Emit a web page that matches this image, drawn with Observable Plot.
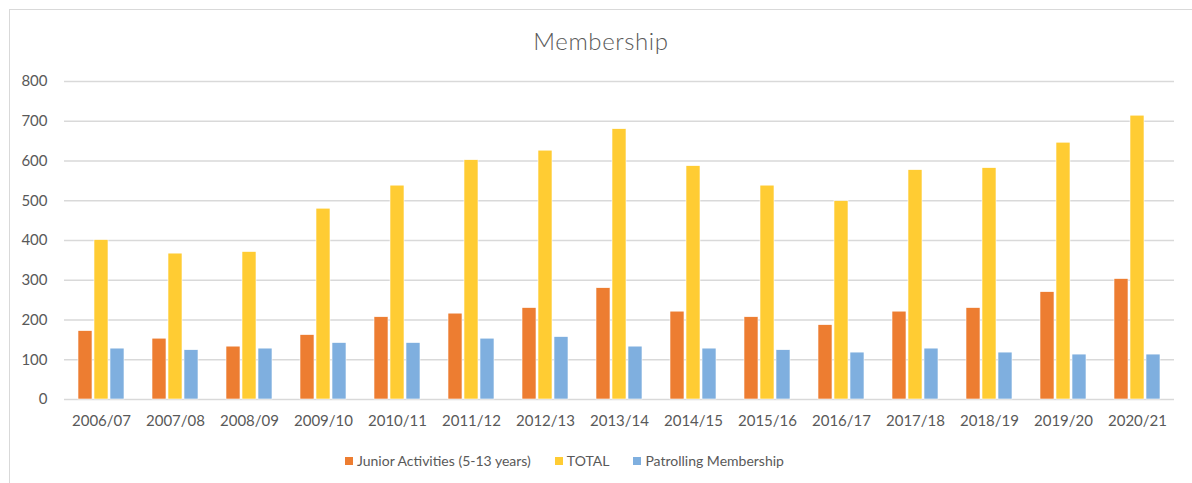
<!DOCTYPE html>
<html>
<head>
<meta charset="utf-8">
<script src="https://cdn.jsdelivr.net/npm/d3@7"></script>
<script src="https://cdn.jsdelivr.net/npm/@observablehq/plot@0.6"></script>
<style>
  html, body { margin: 0; padding: 0; background: #fff; }
  body { width: 1192px; height: 483px; position: relative; overflow: hidden; font-family: Lato, "Open Sans", sans-serif; }
  #frame { position: absolute; left: 9px; top: 9px; width: 1200px; height: 480px; border: 1px solid #d9d9d9; box-sizing: border-box; }
  #title { position: absolute; left: 10px; width: 1182px; top: 26px; text-align: center; font-size: 24px; font-weight: 300; letter-spacing: 0.6px; color: #595959; }
  #chart { position: absolute; left: 0; top: 0; }
  #legend { position: absolute; top: 452px; left: 345px; display: flex; align-items: center; font-size: 14px; color: #595959; }
  #legend .item { display: flex; align-items: center; margin-right: 24px; }
  #legend .sw { width: 8px; height: 8px; margin-right: 4px; }
</style>
</head>
<body>
<div id="frame"></div>
<div id="title">Membership</div>
<div id="chart"></div>
<div id="legend"></div>
<script>
const years = ["2006/07","2007/08","2008/09","2009/10","2010/11","2011/12","2012/13","2013/14","2014/15","2015/16","2016/17","2017/18","2018/19","2019/20","2020/21"];
const seriesNames = ["Junior Activities (5-13 years)", "TOTAL", "Patrolling Membership"];
const junior = [172, 153, 133, 162, 207, 216, 230, 280, 221, 207, 187, 221, 230, 270, 303];
const total = [401, 367, 371, 480, 538, 602, 626, 680, 587, 538, 499, 577, 582, 646, 714];
const patrolling = [128, 124, 128, 142, 142, 153, 157, 133, 128, 124, 118, 128, 118, 113, 113];
const colors = ["#ED7D31", "#FFCC33", "#7FAFDF"];
const yTicks = [0, 100, 200, 300, 400, 500, 600, 700, 800];

const seriesValues = [junior, total, patrolling];
const data = [];
years.forEach((yr, i) => {
  seriesNames.forEach((s, j) => data.push({year: yr, series: s, value: seriesValues[j][i]}));
});

const chart = Plot.plot({
  width: 1192,
  height: 440,
  marginTop: 81,
  marginBottom: 41,
  marginLeft: 61,
  marginRight: 16,
  style: {fontFamily: "Lato, 'Open Sans', sans-serif", fontSize: "15px", color: "#595959", background: "transparent"},
  fx: {domain: years, padding: 0, label: null},
  x: {domain: seriesNames, paddingInner: 0.15, paddingOuter: 0.82, axis: null},
  y: {domain: [0, 800], ticks: yTicks, label: null},
  color: {domain: seriesNames, range: colors},
  marks: [
    Plot.gridY(yTicks, {stroke: "#d9d9d9", strokeOpacity: 1, strokeWidth: 1.5}),
    Plot.axisY({ticks: yTicks, tickSize: 0, tickPadding: 17, label: null, fontSize: 15}),
    Plot.axisFx({anchor: "bottom", tickSize: 0, tickPadding: 16, label: null, fontSize: 15}),
    Plot.barY(data, {fx: "year", x: "series", y: "value", fill: "series", stroke: "white", strokeWidth: 0.6}),
  ]
});
document.getElementById("chart").appendChild(chart);

const legend = document.getElementById("legend");
seriesNames.forEach((s, j) => {
  const it = document.createElement("div");
  it.className = "item";
  const sw = document.createElement("span");
  sw.className = "sw";
  sw.style.background = colors[j];
  const t = document.createElement("span");
  t.textContent = s;
  it.appendChild(sw); it.appendChild(t);
  legend.appendChild(it);
});
</script>
</body>
</html>
